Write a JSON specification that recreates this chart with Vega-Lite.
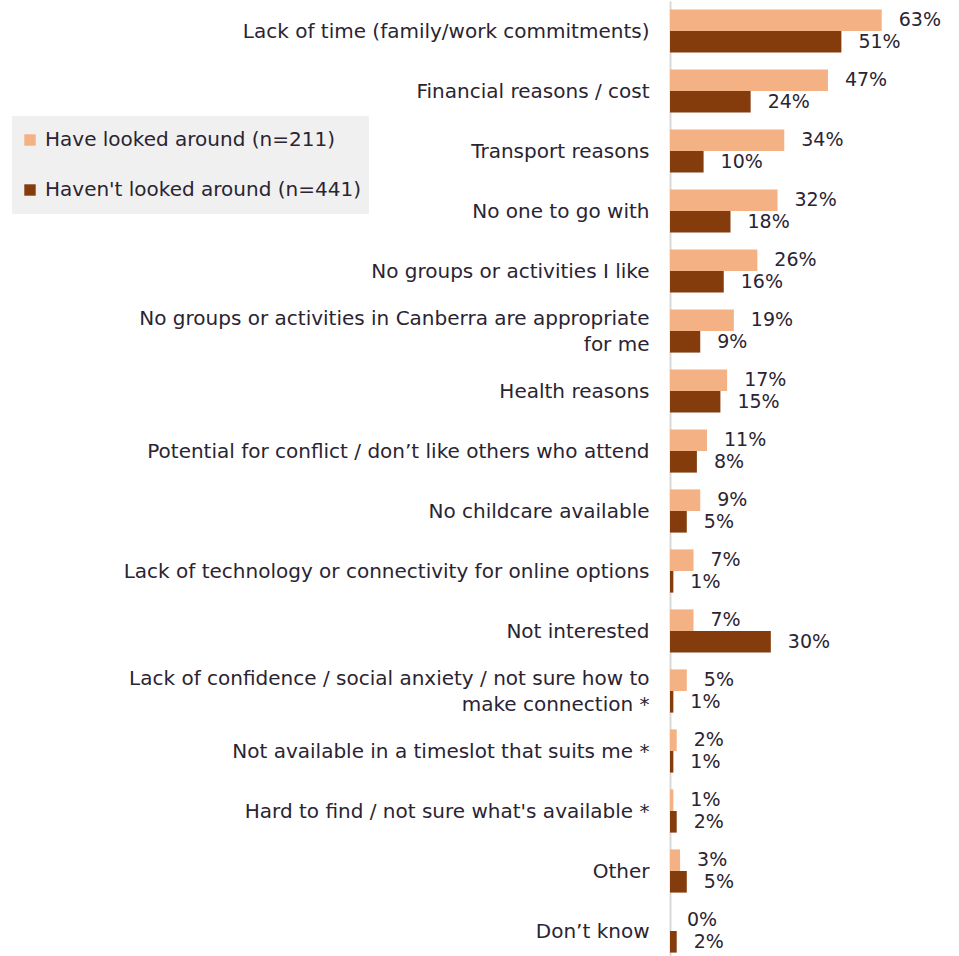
{
  "$schema": "https://vega.github.io/schema/vega-lite/v6.json",
  "autosize": "none",
  "width": 289,
  "height": 960,
  "padding": {"left": 670, "top": 1, "right": 0, "bottom": 0},
  "background": "white",
  "config": {
    "view": {"stroke": null},
    "font": "DejaVu Sans",
    "text": {"font": "DejaVu Sans"}
  },
  "data": {
    "values": [
      {"reason": "Lack of time (family/work commitments)", "group": "Have looked around (n=211)", "pct": 63},
      {"reason": "Lack of time (family/work commitments)", "group": "Haven't looked around (n=441)", "pct": 51},
      {"reason": "Financial reasons / cost", "group": "Have looked around (n=211)", "pct": 47},
      {"reason": "Financial reasons / cost", "group": "Haven't looked around (n=441)", "pct": 24},
      {"reason": "Transport reasons", "group": "Have looked around (n=211)", "pct": 34},
      {"reason": "Transport reasons", "group": "Haven't looked around (n=441)", "pct": 10},
      {"reason": "No one to go with", "group": "Have looked around (n=211)", "pct": 32},
      {"reason": "No one to go with", "group": "Haven't looked around (n=441)", "pct": 18},
      {"reason": "No groups or activities I like", "group": "Have looked around (n=211)", "pct": 26},
      {"reason": "No groups or activities I like", "group": "Haven't looked around (n=441)", "pct": 16},
      {"reason": "No groups or activities in Canberra are appropriate|for me", "group": "Have looked around (n=211)", "pct": 19},
      {"reason": "No groups or activities in Canberra are appropriate|for me", "group": "Haven't looked around (n=441)", "pct": 9},
      {"reason": "Health reasons", "group": "Have looked around (n=211)", "pct": 17},
      {"reason": "Health reasons", "group": "Haven't looked around (n=441)", "pct": 15},
      {"reason": "Potential for conflict / don’t like others who attend", "group": "Have looked around (n=211)", "pct": 11},
      {"reason": "Potential for conflict / don’t like others who attend", "group": "Haven't looked around (n=441)", "pct": 8},
      {"reason": "No childcare available", "group": "Have looked around (n=211)", "pct": 9},
      {"reason": "No childcare available", "group": "Haven't looked around (n=441)", "pct": 5},
      {"reason": "Lack of technology or connectivity for online options", "group": "Have looked around (n=211)", "pct": 7},
      {"reason": "Lack of technology or connectivity for online options", "group": "Haven't looked around (n=441)", "pct": 1},
      {"reason": "Not interested", "group": "Have looked around (n=211)", "pct": 7},
      {"reason": "Not interested", "group": "Haven't looked around (n=441)", "pct": 30},
      {"reason": "Lack of confidence / social anxiety / not sure how to|make connection *", "group": "Have looked around (n=211)", "pct": 5},
      {"reason": "Lack of confidence / social anxiety / not sure how to|make connection *", "group": "Haven't looked around (n=441)", "pct": 1},
      {"reason": "Not available in a timeslot that suits me *", "group": "Have looked around (n=211)", "pct": 2},
      {"reason": "Not available in a timeslot that suits me *", "group": "Haven't looked around (n=441)", "pct": 1},
      {"reason": "Hard to find / not sure what's available *", "group": "Have looked around (n=211)", "pct": 1},
      {"reason": "Hard to find / not sure what's available *", "group": "Haven't looked around (n=441)", "pct": 2},
      {"reason": "Other", "group": "Have looked around (n=211)", "pct": 3},
      {"reason": "Other", "group": "Haven't looked around (n=441)", "pct": 5},
      {"reason": "Don’t know", "group": "Have looked around (n=211)", "pct": 0},
      {"reason": "Don’t know", "group": "Haven't looked around (n=441)", "pct": 2}
    ]
  },
  "encoding": {
    "y": {
      "field": "reason",
      "type": "nominal",
      "sort": null,
      "scale": {"paddingInner": 0.28, "paddingOuter": 0.14},
      "axis": {
        "title": null,
        "ticks": false,
        "domainColor": "#d9d9d9",
        "domainWidth": 2,
        "labelFontSize": 20,
        "labelColor": "#2b2432",
        "labelPadding": 21,
        "labelLimit": 700,
        "labelLineHeight": 26,
        "labelExpr": "split(datum.label, '|')",
        "labelOffset": {"condition": {"test": "indexof(datum.value, '|') >= 0", "value": -12}, "value": 1}
      }
    },
    "yOffset": {"field": "group", "type": "nominal", "sort": null},
    "x": {
      "field": "pct",
      "type": "quantitative",
      "scale": {"domain": [0, 86]},
      "axis": null
    }
  },
  "layer": [
    {
      "mark": {"type": "bar"},
      "encoding": {
        "color": {
          "field": "group",
          "type": "nominal",
          "sort": null,
          "scale": {"range": ["#F4B183", "#843C0C"]},
          "legend": {
            "title": null,
            "orient": "none",
            "legendX": -658,
            "legendY": 115,
            "fillColor": "#f0f0f0",
            "padding": 8,
            "clipHeight": 32,
            "symbolType": "square",
            "symbolSize": 130,
            "symbolStrokeWidth": 0,
            "labelFontSize": 20,
            "labelColor": "#2b2432",
            "labelOffset": 5,
            "rowPadding": 18,
            "labelLimit": 400
          }
        }
      }
    },
    {
      "mark": {"type": "text", "align": "left", "baseline": "middle", "dx": 17, "fontSize": 19, "color": "#2b2432", "text": {"expr": "datum.pct + '%'"}},
      "encoding": {
        "detail": {"field": "group"}
      }
    }
  ]
}
